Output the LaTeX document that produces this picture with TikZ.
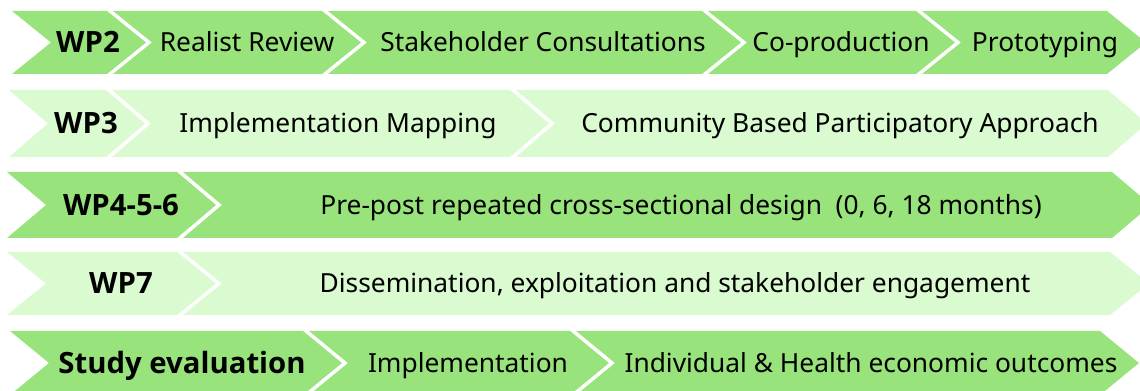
\documentclass[tikz,border=0pt]{standalone}
\usepackage{fontspec}
\setmainfont{Noto Sans}
\newfontfamily\wpfont{Open Sans}
\usepackage{xcolor}

\definecolor{wpdark}{RGB}{152,227,123}
\definecolor{wplight}{RGB}{218,250,207}

% one chevron: colour, left x, right x, top y, bottom y
\newcommand{\chev}[5]{%
  \fill[#1] (#2,#4) -- (#3,#4) -- ({#3+39},{(#4+#5)/2}) -- (#3,#5)
    -- (#2,#5) -- ({#2+39},{(#4+#5)/2}) -- cycle;}

\tikzset{
  item/.style={font=\fontsize{19.75}{23}\selectfont, inner sep=0pt, text=black,
    text height=14.1pt, text depth=0pt},
  wp/.style={item, font=\fontsize{22}{26}\selectfont\wpfont\bfseries,
    text height=15.7pt}
}

\begin{document}
\begin{tikzpicture}[x=0.75pt, y=-0.75pt]
    \useasboundingbox (0,0) rectangle (1140,391);
    \clip (0,0) rectangle (1140,391);

    % WP2
    \chev{wpdark}{12}{107}{11}{74}
    \chev{wpdark}{113}{322}{11}{74}
    \chev{wpdark}{328}{702}{11}{74}
    \chev{wpdark}{708}{916}{11}{74}
    \chev{wpdark}{922}{1107}{11}{74}
    \node[wp]   (wp2)   at (88,42.5)   {WP2};
    \node[item] (rev)   at (247,42.5)  {Realist Review};
    \node[item] (cons)  at (543,42.5)  {Stakeholder Consultations};
    \node[item] (coprod) at (841,42.5) {Co-production};
    \node[item] (proto) at (1045,42.5) {Prototyping};

    % WP3
    \chev{wplight}{9}{106}{90}{157}
    \chev{wplight}{112}{510}{90}{157}
    \chev{wplight}{516}{1108}{90}{157}
    \node[wp]   (wp3)   at (86,123.5)  {WP3};
    \node[item] (imap)  at (338,123.5) {Implementation Mapping};
    \node[item] (cbpa)  at (840,123.5) {Community Based Participatory Approach};

    % WP4-5-6
    \chev{wpdark}{7}{177}{172}{238}
    \chev{wpdark}{183}{1112}{172}{238}
    \node[wp]   (wp456) at (121,205)   {WP4-5-6};
    \node[item] (design) at (681,205)  {Pre-post repeated cross-sectional design\ \ (0, 6, 18 months)};

    % WP7
    \chev{wplight}{7}{177}{252}{315}
    \chev{wplight}{183}{1110}{252}{315}
    \node[wp]   (wp7)   at (121,283.5) {WP7};
    \node[item] (diss)  at (675,283.5) {Dissemination, exploitation and stakeholder engagement};

    % study evaluation
    \chev{wpdark}{10}{303}{331}{395}
    \chev{wpdark}{309}{570}{331}{395}
    \chev{wpdark}{576}{1100}{331}{395}
    \node[wp]   (eval)  at (182,363)   {Study evaluation};
    \node[item] (impl)  at (468,363)   {Implementation};
    \node[item] (outc)  at (871,363)   {Individual \& Health economic outcomes};
\end{tikzpicture}
\end{document}
